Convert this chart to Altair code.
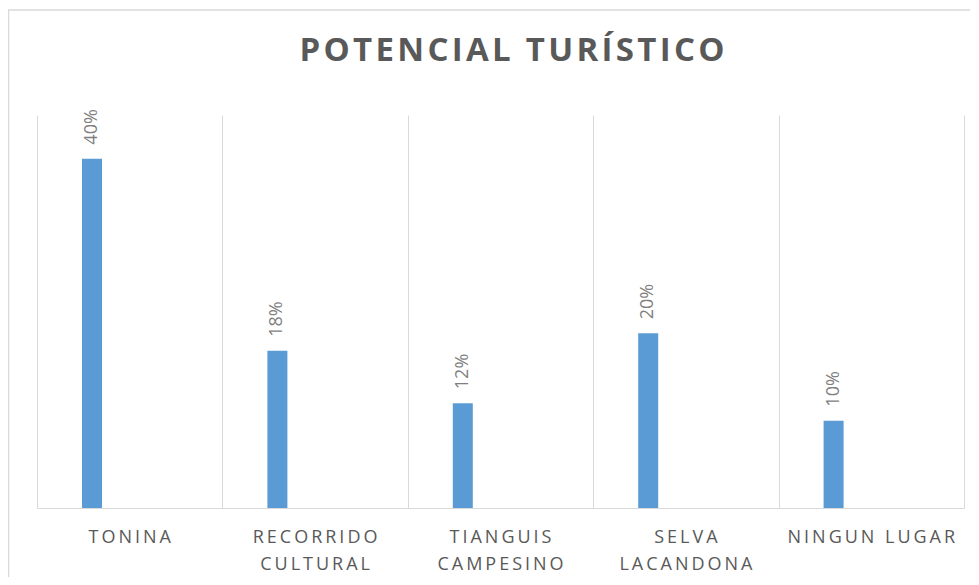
import altair as alt
import pandas as pd

categories = ["TONINA", "RECORRIDO\nCULTURAL", "TIANGUIS\nCAMPESINO", "SELVA\nLACANDONA", "NINGUN LUGAR"]
values = [40, 18, 12, 20, 10]
value_labels = ["40%", "18%", "12%", "20%", "10%"]
title_text = "POTENCIAL TURÍSTICO"


def spaced(s, sep="\u2009"):
    return "\n".join(sep.join(list(line)) for line in s.split("\n"))


df = pd.DataFrame({
    "cat": categories,
    "val": values,
    "lab": value_labels,
    "axis_lab": [spaced(c) for c in categories],
})
title_df = pd.DataFrame({"t": [spaced(title_text, "\u200a")]})

W, H = 927, 393
FONT = "Open Sans"
BAR_SHIFT = -37.7

x_enc = alt.X(
    "cat:N",
    sort=None,
    scale=alt.Scale(paddingInner=0, paddingOuter=0),
    axis=alt.Axis(
        title=None,
        labels=False,
        ticks=False,
        domain=True,
        domainColor="#d9d9d9",
        domainWidth=1,
        grid=True,
        gridColor="#d9d9d9",
        gridWidth=1,
        tickBand="extent",
    ),
)
y_enc = alt.Y("val:Q", scale=alt.Scale(domain=[0, 45]), axis=None)

base = alt.Chart(df)

bars = base.mark_bar(width=20, xOffset=BAR_SHIFT, color="#5b9bd5").encode(x=x_enc, y=y_enc)

labels = base.mark_text(
    angle=270, align="left", baseline="middle", dx=14, xOffset=BAR_SHIFT,
    font=FONT, fontSize=18, color="#7f7f7f",
).encode(x=alt.X("cat:N", sort=None), y=alt.Y("val:Q"), text="lab:N")

xlabels = base.mark_text(
    align="center", baseline="alphabetic", lineBreak="\n", lineHeight=27,
    font=FONT, fontSize=18, color="#595959",
).encode(x=alt.X("cat:N", sort=None), y=alt.value(428), text="axis_lab:N")

title = alt.Chart(title_df).mark_text(
    align="center", baseline="alphabetic", font=FONT, fontSize=33,
    fontWeight="bold", color="#595959",
).encode(x=alt.value(475), y=alt.value(-54), text="t:N")

border = alt.Chart(title_df).mark_rect(
    fill=None, stroke="#d9d9d9", strokeWidth=1.5, clip=False,
).encode(x=alt.value(-28.5), x2=alt.value(1200), y=alt.value(-105), y2=alt.value(800))

chart = alt.layer(border, bars, labels, xlabels, title).properties(
    width=W, height=H,
    padding={"left": 29, "top": 107, "right": 6, "bottom": 69},
    autosize=alt.AutoSizeParams(type="none"),
).configure(background="white", view=alt.ViewConfig(stroke=None))

chart.save("out.html", embed_options={"renderer": "svg", "actions": False})
